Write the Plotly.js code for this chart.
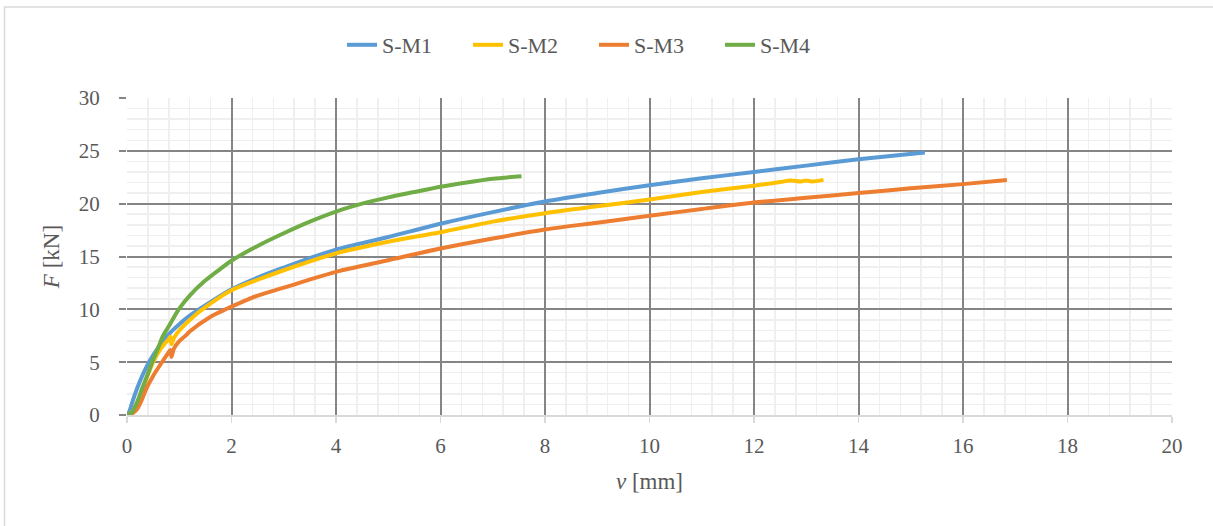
<!DOCTYPE html>
<html>
<head>
<meta charset="utf-8">
<script src="https://cdn.plot.ly/plotly-3.0.1.min.js"></script>
<style>
  html, body { margin: 0; padding: 0; background: #ffffff; }
  #chart { width: 1213px; height: 526px; }
</style>
</head>
<body>
<div id="chart"></div>
<script>
// ---- Data ----
const seriesNames = ["S-M1", "S-M2", "S-M3", "S-M4"];

const vM1 = [0, 0.05, 0.1, 0.2, 0.3, 0.42, 0.6, 0.77, 1.0, 1.2, 1.6, 2.0, 2.5, 3.0, 3.5, 4.0, 5.0, 6.0, 7.0, 8.0, 9.0, 10.0, 11.0, 12.0, 13.0, 14.0, 15.27];
const fM1 = [0, 0.4, 1.2, 2.6, 3.8, 5.0, 6.4, 7.5, 8.6, 9.4, 10.7, 11.9, 13.0, 13.95, 14.85, 15.65, 16.85, 18.1, 19.2, 20.2, 21.0, 21.75, 22.4, 23.0, 23.6, 24.2, 24.85];

const vM2 = [0, 0.1, 0.2, 0.3, 0.4, 0.5, 0.65, 0.8, 0.83, 0.85, 0.9, 1.0, 1.2, 1.5, 2.0, 2.5, 3.0, 4.0, 5.0, 6.0, 7.0, 8.0, 9.0, 10.0, 11.0, 12.0, 12.5, 12.7, 12.9, 13.0, 13.1, 13.33];
const fM2 = [0, 0.3, 1.2, 2.5, 3.8, 5.0, 6.3, 7.2, 7.4, 6.7, 7.3, 8.0, 9.0, 10.2, 11.8, 12.8, 13.7, 15.3, 16.4, 17.3, 18.3, 19.1, 19.75, 20.4, 21.1, 21.7, 22.05, 22.2, 22.1, 22.2, 22.1, 22.25];

const vM3 = [0, 0.1, 0.19, 0.28, 0.37, 0.5, 0.67, 0.78, 0.83, 0.85, 0.9, 1.0, 1.12, 1.2, 1.6, 1.91, 2.23, 2.5, 3.0, 4.0, 5.0, 6.0, 7.0, 8.0, 9.0, 10.0, 11.0, 12.0, 13.0, 14.0, 15.0, 16.0, 16.84];
const fM3 = [0, 0.15, 0.55, 1.4, 2.5, 3.7, 5.0, 5.8, 6.15, 5.5, 6.3, 7.0, 7.5, 7.9, 9.3, 10.05, 10.75, 11.3, 12.05, 13.55, 14.65, 15.75, 16.7, 17.55, 18.2, 18.85, 19.5, 20.1, 20.55, 21.0, 21.45, 21.85, 22.25];

const vM4 = [0, 0.1, 0.2, 0.29, 0.4, 0.48, 0.6, 0.69, 0.8, 0.99, 1.2, 1.47, 1.7, 2.0, 2.5, 3.0, 3.5, 4.0, 4.5, 5.0, 5.5, 6.0, 6.5, 7.0, 7.55];
const fM4 = [0, 0.3, 1.3, 2.5, 3.9, 5.0, 6.4, 7.5, 8.4, 10.0, 11.3, 12.6, 13.5, 14.6, 16.0, 17.2, 18.3, 19.25, 20.0, 20.6, 21.1, 21.6, 22.0, 22.35, 22.6];

const xTicks = [0, 2, 4, 6, 8, 10, 12, 14, 16, 18, 20];
const yTicks = [0, 5, 10, 15, 20, 25, 30];

// ---- Styling ----
const colors = ["#5B9BD5", "#FFC000", "#ED7D31", "#70AD47"];
const FONT = "Times New Roman, serif";
const TXT = "#595959";

const xs = [vM1, vM2, vM3, vM4];
const ys = [fM1, fM2, fM3, fM4];
const traces = seriesNames.map((n, i) => ({
  type: "scatter",
  mode: "lines",
  name: n,
  x: xs[i],
  y: ys[i],
  line: { color: colors[i], width: 4, shape: "spline", smoothing: 0.8 },
  hoverinfo: "skip"
}));

// plot area in pixels: left 127, right 1172, top 98, bottom 415
const L = 127, R = 1172, T = 98, B = 415;
const W = 1213, H = 526;
const px = p => (p - L) / (R - L);
const py = p => (B - p) / (B - T);

const layout = {
  width: W,
  height: H,
  margin: { l: L, r: W - R, t: T, b: H - B, pad: 0 },
  paper_bgcolor: "#ffffff",
  plot_bgcolor: "#ffffff",
  font: { family: FONT, size: 21, color: TXT },
  showlegend: true,
  legend: {
    orientation: "h",
    x: px(342), xanchor: "left",
    y: py(45), yanchor: "middle",
    font: { family: FONT, size: 22, color: TXT },
    entrywidth: 81,
    entrywidthmode: "pixels",
    itemwidth: 30,
    tracegroupgap: 0,
    bgcolor: "rgba(0,0,0,0)"
  },
  xaxis: {
    range: [0, 20],
    tickvals: xTicks,
    ticktext: xTicks.map(String),
    showgrid: true,
    gridcolor: "#858585",
    gridwidth: 2,
    zeroline: false,
    showline: true,
    linecolor: "#d9d9d9",
    linewidth: 2,
    ticks: "outside",
    ticklen: 6,
    tickwidth: 1.5,
    tickcolor: "#d9d9d9",
    ticklabelstandoff: 5,
    tickfont: { family: FONT, size: 21, color: TXT },
    minor: { dtick: 0.4, showgrid: true, gridcolor: "#efefef", gridwidth: 1.5, ticks: "" },
    title: { text: "<i>v</i> [mm]", font: { family: FONT, size: 23, color: TXT }, standoff: 16 },
    layer: "below traces"
  },
  yaxis: {
    range: [0, 30],
    tickvals: yTicks,
    ticktext: yTicks.map(String),
    showgrid: true,
    gridcolor: "#858585",
    gridwidth: 2,
    zeroline: false,
    showline: false,
    ticks: "outside",
    ticklen: 7,
    tickwidth: 2,
    tickcolor: "#858585",
    ticklabelstandoff: 15,
    tickfont: { family: FONT, size: 21, color: TXT },
    minor: { dtick: 1, showgrid: true, gridcolor: "#efefef", gridwidth: 1.5, ticks: "" },
    title: { text: "<i>F</i> [kN]", font: { family: FONT, size: 23, color: TXT }, standoff: 12 },
    layer: "below traces"
  },
  shapes: [{
    type: "rect",
    xref: "paper", yref: "paper",
    x0: px(4.5), x1: px(1230),
    y0: py(540), y1: py(7),
    line: { color: "#d9d9d9", width: 1.5 },
    fillcolor: "rgba(0,0,0,0)",
    layer: "below"
  }]
};

Plotly.newPlot("chart", traces, layout, { staticPlot: true, displayModeBar: false });
</script>
</body>
</html>
